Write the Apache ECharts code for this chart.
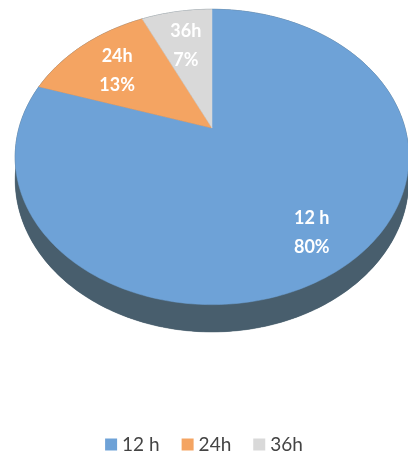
<!DOCTYPE html>
<html>
<head>
<meta charset="utf-8">
<script src="https://cdn.jsdelivr.net/npm/echarts@6/dist/echarts.min.js"></script>
<style>
html,body{margin:0;padding:0;background:#fff;}
#chart{width:408px;height:459px;}
</style>
</head>
<body>
<div id="chart"></div>
<script>
// ---- data ----
const categories = ['12 h', '24h', '36h'];
const values = [80, 13, 7];

// ---- style ----
const topColors = ['#6ea2d7', '#f4a462', '#d9d9d9'];
const sideColor = '#485e6d';
const CX = 212, CY = 128, A = 193, B = 142, K = 0.196, DEPTH = 22;

const total = values.reduce((a, b) => a + b, 0);
function startOf(i) { let s = 0; for (let j = 0; j < i; j++) s += values[j]; return s; }

function proj(theta, r, h) {
  const u = Math.sin(theta), v = -Math.cos(theta);
  const f = 1 / (1 - K * v);
  return [CX + A * r * u * f, CY + B * r * v * f + h * f];
}
function arc(t0, t1, h) {
  const pts = [];
  const n = Math.max(2, Math.ceil((t1 - t0) / (Math.PI / 180)));
  for (let s = 0; s <= n; s++) pts.push(proj(t0 + (t1 - t0) * s / n, 1, h));
  return pts;
}

function topRender(i) {
  return function (params, api) {
    const val = api.value(0);
    const t0 = startOf(i) / total * 2 * Math.PI;
    const t1 = t0 + val / total * 2 * Math.PI;
    const pts = [proj(0, 0, 0)].concat(arc(t0, t1, 0));
    const mid = (t0 + t1) / 2;
    const lp = proj(mid, 0.74, 0);
    return {
      type: 'group',
      children: [
        { type: 'polygon', shape: { points: pts }, style: { fill: topColors[i], stroke: topColors[i], lineWidth: 0.5 } },
        { type: 'text', x: lp[0], y: lp[1] + 4, z2: 10,
          style: { text: categories[i] + '\n' + Math.round(val / total * 100) + '%',
                   fill: '#ffffff', font: 'bold 18px Lato, "Open Sans", sans-serif',
                   align: 'center', verticalAlign: 'middle', lineHeight: 29 } }
      ]
    };
  };
}

function sideRender(params, api) {
  const i = params.dataIndex;
  const val = api.value(0);
  const t0 = startOf(i) / total * 2 * Math.PI;
  const t1 = t0 + val / total * 2 * Math.PI;
  const topArc = arc(t0, t1, 0);
  const botArc = arc(t0, t1, DEPTH);
  const wall = topArc.concat(botArc.slice().reverse());
  const bottom = [proj(0, 0, DEPTH)].concat(botArc);
  return {
    type: 'group',
    children: [
      { type: 'polygon', shape: { points: bottom }, style: { fill: sideColor } },
      { type: 'polygon', shape: { points: wall }, style: { fill: sideColor, stroke: sideColor, lineWidth: 0.5 } }
    ]
  };
}

const series = [{
  type: 'custom', name: 'side', coordinateSystem: 'none', z: 1, silent: true,
  data: values.map(v => [v]), renderItem: sideRender
}];
categories.forEach((c, i) => {
  series.push({
    type: 'custom', name: c, coordinateSystem: 'none', z: 2,
    itemStyle: { color: topColors[i] },
    data: [[values[i]]], renderItem: topRender(i)
  });
});

const chart = echarts.init(document.getElementById('chart'), null, { renderer: 'canvas' });
chart.setOption({
  animation: false,
  backgroundColor: '#ffffff',
  legend: {
    data: categories,
    left: 'center', top: 430,
    icon: 'rect', itemWidth: 12, itemHeight: 12, itemGap: 22,
    textStyle: { color: '#444', fontSize: 19, fontFamily: 'Lato, "Open Sans", sans-serif' }
  },
  series: series
});
</script>
</body>
</html>
